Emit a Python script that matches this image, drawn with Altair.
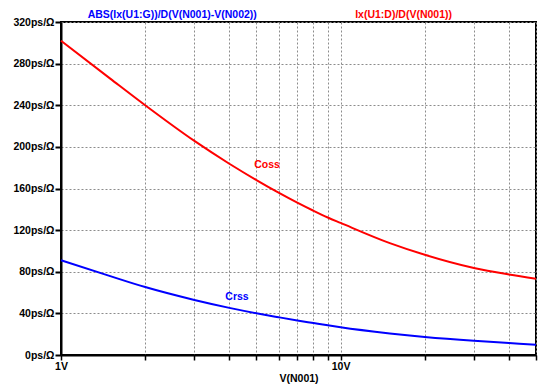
import altair as alt
import pandas as pd

voltage = [1, 1.5, 2, 3, 4, 5, 6, 7, 8, 9, 10, 15, 20, 30, 40, 50]
coss = [302, 265.6, 240, 205.7, 183.8, 168.1, 156.0, 146.4, 138.6, 132.1, 126.9, 107.5, 96.3, 83.6, 77.4, 73.3]
crss = [91, 75.8, 65.3, 52.9, 45.3, 40.1, 36.3, 33.2, 30.7, 28.5, 26.6, 20.7, 17.3, 13.6, 11.5, 9.9]

x_ticks = [1, 2, 3, 4, 5, 6, 7, 8, 9, 10, 20, 30, 40, 50]
y_ticks = [0, 40, 80, 120, 160, 200, 240, 280, 320]

series_names = ["Crss", "Coss"]
series_colors = ["#0000ff", "#ff0000"]
trace_titles = ["ABS(Ix(U1:G))/D(V(N001)-V(N002))", "Ix(U1:D)/D(V(N001))"]
trace_title_v = [2.5, 16.8]
label_v = [4.26, 5.46]
label_val = [55.6, 182.3]

rows = []
for v, c in zip(voltage, coss):
    rows.append({"V": v, "val": c, "s": "Coss"})
for v, c in zip(voltage, crss):
    rows.append({"V": v, "val": c, "s": "Crss"})
df = pd.DataFrame(rows)

lab = pd.DataFrame({"V": label_v, "val": label_val, "s": series_names, "t": series_names})
tit = pd.DataFrame({"V": trace_title_v, "s": series_names, "t": trace_titles})

FONT = "Liberation Sans"

xscale = alt.Scale(type="log", domain=[1, 50], nice=False)
yscale = alt.Scale(domain=[0, 320], nice=False)
cscale = alt.Scale(domain=series_names, range=series_colors)

xaxis = alt.Axis(
    values=x_ticks,
    labelExpr="datum.value == 1 ? '1V' : (datum.value == 10 ? '10V' : '')",
    title="V(N001)",
    titleFont=FONT, titleFontSize=10.5, titleFontWeight="bold", titleColor="black",
    titlePadding=2,
    labelFont=FONT, labelFontSize=10.5, labelFontWeight="bold", labelColor="black",
    labelPadding=1, labelFlush=False,
    grid=True, gridColor="#8c8c8c", gridDash=[2, 2], gridWidth=1,
    tickColor="black", tickSize=5, tickWidth=1.5,
    domainColor="black", domainWidth=2,
)
yaxis = alt.Axis(
    values=y_ticks,
    labelExpr="datum.value + 'ps/Ω'",
    title=None,
    labelFont=FONT, labelFontSize=10.5, labelFontWeight="bold", labelColor="black",
    labelPadding=1,
    grid=True, gridColor="#8c8c8c", gridDash=[2, 2], gridWidth=1,
    tickColor="black", tickSize=6, tickWidth=2,
    domainColor="black", domainWidth=2,
)

lines = alt.Chart(df).mark_line(strokeWidth=2, interpolate="monotone").encode(
    x=alt.X("V:Q", scale=xscale, axis=xaxis),
    y=alt.Y("val:Q", scale=yscale, axis=yaxis),
    color=alt.Color("s:N", scale=cscale, legend=None),
    detail="s:N",
)

labels = alt.Chart(lab).mark_text(font=FONT, fontSize=10.5, fontWeight="bold").encode(
    x=alt.X("V:Q", scale=xscale),
    y=alt.Y("val:Q", scale=yscale),
    text="t:N",
    color=alt.Color("s:N", scale=cscale, legend=None),
)

titles = alt.Chart(tit).mark_text(font=FONT, fontSize=10.5, fontWeight="bold").encode(
    x=alt.X("V:Q", scale=xscale),
    y=alt.value(-7),
    text="t:N",
    color=alt.Color("s:N", scale=cscale, legend=None),
)

chart = alt.layer(lines, labels, titles).properties(
    width=475, height=333,
    autosize=alt.AutoSizeParams(type="none"),
    padding={"left": 61, "top": 22, "right": 3, "bottom": 37},
    background="white",
).configure_view(stroke="black", strokeWidth=2)

chart.save("out.html", embed_options={"renderer": "svg", "actions": False})
